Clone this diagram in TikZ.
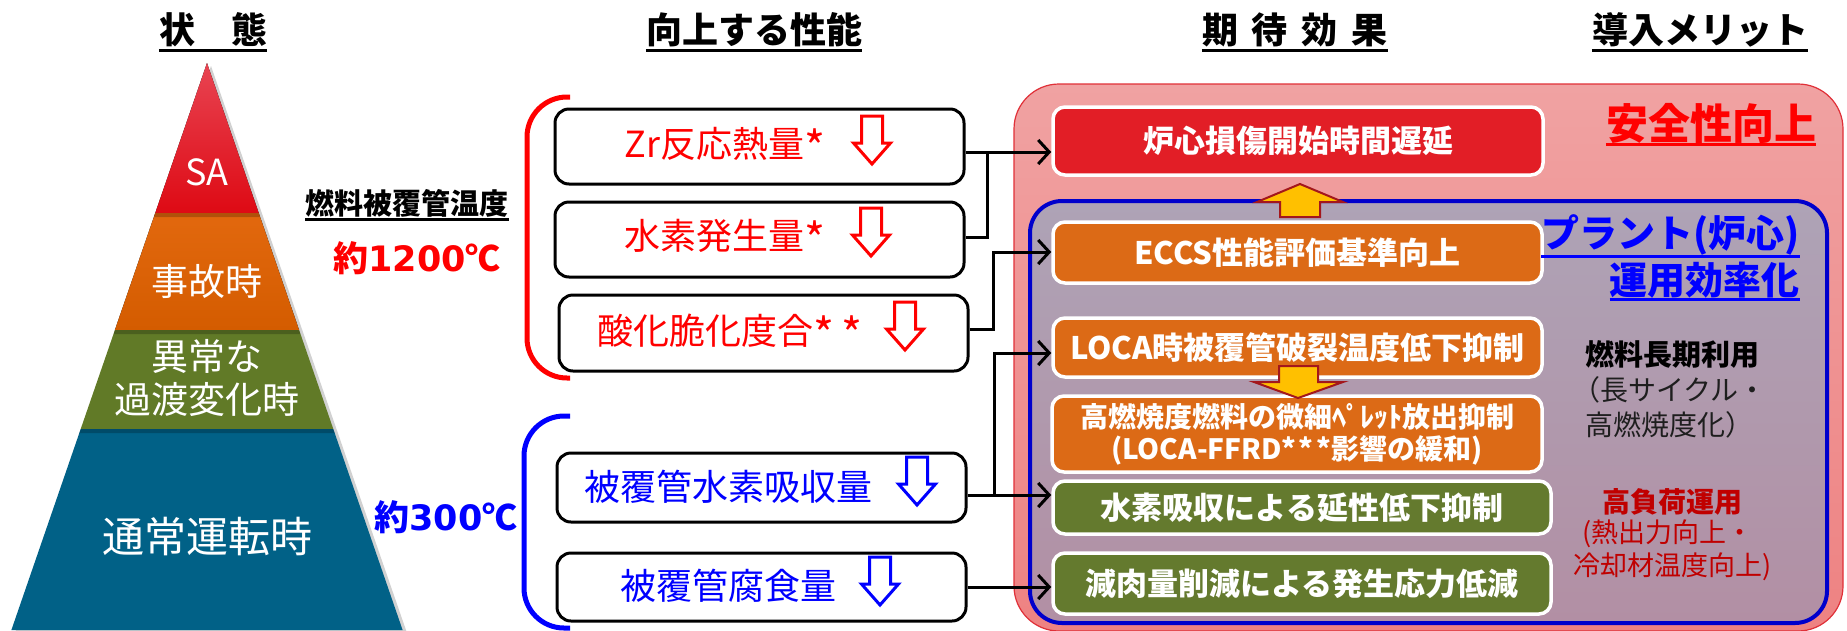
\documentclass[tikz,border=0pt]{standalone}
\usepackage{fontspec}
\setmainfont{Noto Sans CJK JP}
\newfontfamily\dvsans{DejaVu Sans}
\usetikzlibrary{arrows.meta}
\definecolor{pyrRedTop}{HTML}{E84452}
\definecolor{pyrRed}{HTML}{DE0A14}
\definecolor{pyrOrangeTop}{HTML}{E2680E}
\definecolor{pyrOrange}{HTML}{D45C00}
\definecolor{pyrGreen}{HTML}{617A27}
\definecolor{pyrBlue}{HTML}{016187}
\definecolor{txtRed}{HTML}{FF0000}
\definecolor{txtBlue}{HTML}{0000FF}
\definecolor{boxRed}{HTML}{E21E26}
\definecolor{boxOrange}{HTML}{DC6A16}
\definecolor{boxGreen}{HTML}{647A2E}
\definecolor{pinkTop}{HTML}{F0A2A2}
\definecolor{pinkBot}{HTML}{EE8282}
\definecolor{frameRed}{HTML}{E03038}
\definecolor{lavTop}{HTML}{AEA3B6}
\definecolor{lavBot}{HTML}{B28FA4}
\definecolor{frameBlue}{HTML}{0000CC}
\definecolor{arrowYellow}{HTML}{FFC000}
\definecolor{arrowEdge}{HTML}{A3171C}
\definecolor{darkRed}{HTML}{C00000}
\definecolor{darkGray}{HTML}{1E1E1E}
\tikzset{
  pics/hollowdown/.style={code={
    \draw[line width=3pt, line join=miter, draw=#1]
      (-10.5,0) -- (10.5,0) -- (10.5,27) -- (18.5,27) -- (0,48) -- (-18.5,27) -- (-10.5,27) -- cycle;
  }}
}
\newcommand{\bigast}{\raisebox{-7pt}{\scalebox{1.25}{*}}}
\begin{document}
\begin{tikzpicture}[x=1pt,y=-1pt,
  hdr/.style={font=\bfseries\fontsize{36}{40}\selectfont, inner sep=0pt},
  uline/.style={line width=3.5pt},
  pyrtext/.style={text=white, font=\fontsize{37}{43}\selectfont, inner sep=0pt, align=center},
  midbox/.style={draw=black, line width=3pt, rounded corners=14pt, fill=white, minimum width=409pt, inner sep=0pt},
  midred/.style={text=txtRed, font=\fontsize{36}{40}\selectfont, inner sep=0pt},
  midblue/.style={text=txtBlue, font=\fontsize{36}{40}\selectfont, inner sep=0pt},
  effbox/.style={draw=white, line width=3.5pt, rounded corners=12pt, text=white, font=\bfseries\fontsize{31}{34}\selectfont, inner sep=0pt, align=center},
  conn/.style={line width=3pt, draw=black},
  connarr/.style={conn, -{Straight Barb[length=11pt,width=24pt,line width=3pt]}},
  yarrow/.style={fill=arrowYellow, draw=arrowEdge, line width=2pt, line join=miter},
  sidebold/.style={font=\bfseries\fontsize{29}{32}\selectfont, inner sep=0pt},
  sidereg/.style={font=\fontsize{28}{32}\selectfont, inner sep=0pt}
]
\useasboundingbox (0,0) rectangle (1847,630);

% ---------------- headers
\node[hdr] (h1) at (213,30) {状\hspace{36pt}態};
\node[hdr] (h2) at (754,30) {向上する性能};
\node[hdr] (h3) at (1295,30) {期\hspace{14pt}待\hspace{14pt}効\hspace{14pt}果};
\node[hdr] (h4) at (1700,30) {導入メリット};
\foreach \h in {h1,h2,h3,h4}
  \draw[uline] ([yshift=-3pt]\h.south west) -- ([yshift=-3pt]\h.south east);

% ---------------- pyramid
\fill[black, opacity=0.18] (211,66) -- (407,633) -- (15,633) -- cycle;
\fill[top color=pyrRedTop, bottom color=pyrRed] (207,63) -- (258.75,213) -- (155.25,213) -- cycle;
\fill[top color=pyrOrangeTop, bottom color=pyrOrange] (155.25,213) -- (258.75,213) -- (299.1,330) -- (114.9,330) -- cycle;
\fill[pyrGreen] (114.9,330) -- (299.1,330) -- (333.3,429) -- (80.7,429) -- cycle;
\fill[pyrBlue] (80.7,429) -- (333.3,429) -- (402.6,630) -- (11.4,630) -- cycle;
\fill[black, opacity=0.22] (155.25,213) -- (258.75,213) -- (260.1,217) -- (153.9,217) -- cycle;
\fill[black, opacity=0.22] (114.9,330) -- (299.1,330) -- (300.5,334) -- (113.5,334) -- cycle;
\fill[black, opacity=0.22] (80.7,429) -- (333.3,429) -- (334.7,433) -- (79.3,433) -- cycle;
\node[pyrtext, font=\fontsize{36}{40}\selectfont] (pSA) at (207,172) {SA};
\node[pyrtext] (pAcc) at (207,281) {事故時};
\node[pyrtext] (pAbn) at (207,378) {異常な\\過渡変化時};
\node[pyrtext, font=\fontsize{42}{46}\selectfont] (pNor) at (207,537) {通常運転時};

% ---------------- temperature labels
\node[sidebold] (lTemp) at (407,203) {燃料被覆管温度};
\draw[line width=3pt] ([yshift=-2pt]lTemp.south west) -- ([yshift=-2pt]lTemp.south east);
\node[inner sep=0pt, text=txtRed, font=\bfseries\fontsize{35}{40}\selectfont] (l1200) at (417,258) {約{\dvsans\bfseries 1200}℃};
\node[inner sep=0pt, text=txtBlue, font=\bfseries\fontsize{35}{40}\selectfont] (l300) at (446,517) {約{\dvsans\bfseries 300}℃};

% ---------------- brackets
\draw[txtRed, line width=5pt, rounded corners=40pt] (570,97) -- (527,97) -- (527,378) -- (570,378);
\draw[txtBlue, line width=5pt, rounded corners=40pt] (570,416) -- (524,416) -- (524,628) -- (570,628);

% ---------------- middle boxes
\node[midbox, minimum height=75pt] (b1) at (759.5,146.5) {};
\node[midbox, minimum height=75pt] (b2) at (759.5,239.5) {};
\node[midbox, minimum height=76pt] (b3) at (763.5,333) {};
\node[midbox, minimum height=69pt] (b4) at (761.5,487.5) {};
\node[midbox, minimum height=68pt] (b5) at (761.5,587) {};
\node[midred] (t1) at (725,146) {Zr反応熱量\bigast};
\node[midred] (t2) at (725,238) {水素発生量\bigast};
\node[midred] (t3) at (730,333) {酸化脆化度合\bigast\hspace{6pt}\bigast};
\node[midblue] (t4) at (728,487) {被覆管水素吸収量};
\node[midblue] (t5) at (728,586) {被覆管腐食量};
\pic at (872,116) {hollowdown=txtRed};
\pic at (871,208) {hollowdown=txtRed};
\pic at (905,302) {hollowdown=txtRed};
\pic at (917,457) {hollowdown=txtBlue};
\pic at (880,557) {hollowdown=txtBlue};

% ---------------- right panel frames
\draw[draw=frameRed, line width=1.2pt, rounded corners=45pt, top color=pinkTop, bottom color=pinkBot] (1014,84) rectangle (1843,631);
\draw[draw=frameBlue, line width=4pt, rounded corners=32pt, top color=lavTop, bottom color=lavBot] (1030,201) rectangle (1827,623);

% ---------------- effect boxes
\node[effbox, fill=boxRed, minimum width=490pt, minimum height=68pt] (r0) at (1298,141) {炉心損傷開始時間遅延};
\node[effbox, fill=boxOrange, minimum width=489pt, minimum height=61pt] (e1) at (1297.5,252.5) {ECCS性能評価基準向上};
\node[effbox, fill=boxOrange, minimum width=489pt, minimum height=59pt] (e2) at (1297.5,347.5) {LOCA時被覆管破裂温度低下抑制};
\node[effbox, fill=boxOrange, minimum width=490pt, minimum height=76pt, font=\bfseries\fontsize{28}{32}\selectfont] (e3) at (1297,434) {高燃焼度燃料の微細ﾍﾟﾚｯﾄ放出抑制\\(LOCA-FFRD*\hspace{3pt}*\hspace{3pt}*影響の緩和)};
\node[effbox, fill=boxGreen, minimum width=498pt, minimum height=53pt] (g1) at (1302,507.5) {水素吸収による延性低下抑制};
\node[effbox, fill=boxGreen, minimum width=498pt, minimum height=61pt] (g2) at (1302,583.5) {減肉量削減による発生応力低減};

% ---------------- yellow arrows
\draw[yarrow] (1280,217) -- (1320,217) -- (1320,202) -- (1343,202) -- (1300,184) -- (1257,202) -- (1280,202) -- cycle;
\draw[yarrow] (1279,366) -- (1318,366) -- (1318,382) -- (1343,382) -- (1298,398) -- (1254,382) -- (1279,382) -- cycle;

% ---------------- side texts
\node[inner sep=0pt, text=txtRed, font=\bfseries\fontsize{42}{46}\selectfont] (sSafe) at (1711,123) {安全性向上};
\draw[txtRed, line width=3pt] ([yshift=-1pt]sSafe.south west) -- ([yshift=-1pt]sSafe.south east);
\node[inner sep=0pt, text=txtBlue, font=\bfseries\fontsize{38}{42}\selectfont, anchor=east] (sPlant) at (1800,235) {プラント(炉心)};
\draw[txtBlue, line width=3pt] ([yshift=-1pt]sPlant.south west) -- ([yshift=-1pt]sPlant.south east);
\node[inner sep=0pt, text=txtBlue, font=\bfseries\fontsize{38}{42}\selectfont, anchor=east] (sOper) at (1800,280) {運用効率化};
\draw[txtBlue, line width=3pt] ([yshift=-1pt]sOper.south west) -- ([yshift=-1pt]sOper.south east);
\node[sidebold, anchor=west, text=black] (sFuel) at (1585,354) {燃料長期利用};
\node[sidereg, anchor=west, text=darkGray] (sFuel2) at (1572,390) {（長サイクル・};
\node[sidereg, anchor=west, text=darkGray] (sFuel3) at (1585,425) {高燃焼度化）};
\node[inner sep=0pt, text=darkRed, font=\bfseries\fontsize{28}{32}\selectfont] (sLoad) at (1672,502) {高負荷運用};
\node[inner sep=0pt, text=darkRed, font=\fontsize{27}{32}\selectfont] (sLoad2) at (1668,534) {(熱出力向上・};
\node[inner sep=0pt, text=darkRed, font=\fontsize{27}{32}\selectfont] (sLoad3) at (1673,567) {冷却材温度向上)};

% ---------------- connectors
\coordinate (j12) at (987,152);
\coordinate (j2) at (987,237);
\coordinate (j3) at (993,329);
\coordinate (j3a) at (993,252);
\coordinate (j4) at (994,495);
\coordinate (j4a) at (994,353);
\coordinate (j5) at (990,587);
\draw[connarr] (b1.east |- j12) -- (r0.west |- j12);
\draw[conn] (b2.east |- j2) -- (j2) -- (j12);
\draw[connarr] (b3.east |- j3) -- (j3) -- (j3a) -- (e1.west |- j3a);
\draw[connarr] (b4.east |- j4) -- (g1.west |- j4);
\draw[connarr] (j4) -- (j4a) -- (e2.west |- j4a);
\draw[connarr] (b5.east |- j5) -- (g2.west |- j5);
\end{tikzpicture}
\end{document}
